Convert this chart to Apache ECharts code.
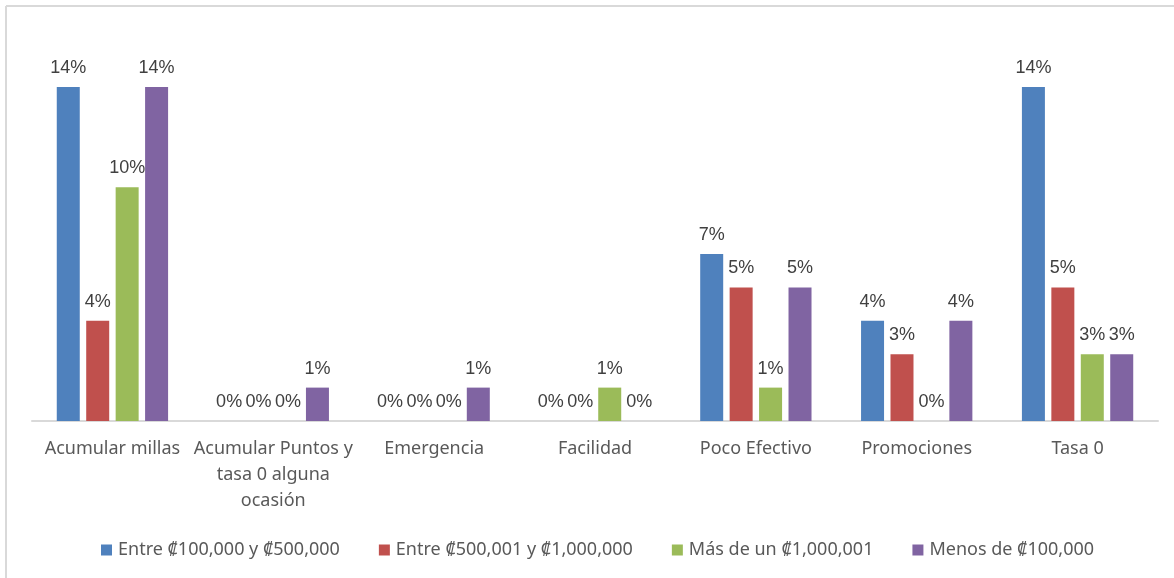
<!DOCTYPE html>
<html>
<head>
<meta charset="utf-8">
<script src="https://cdn.jsdelivr.net/npm/echarts@6/dist/echarts.min.js"></script>
<style>
  html, body { margin: 0; padding: 0; background: #ffffff; }
  #chart { width: 1174px; height: 578px; }
</style>
</head>
<body>
<div id="chart"></div>
<script>
// Reasons for using the card, by income bracket (share of respondents, %)
const categories = [
  'Acumular millas',
  'Acumular Puntos y tasa 0 alguna ocasión',
  'Emergencia',
  'Facilidad',
  'Poco Efectivo',
  'Promociones',
  'Tasa 0'
];

const seriesNames = [
  'Entre ₡100,000 y ₡500,000',
  'Entre ₡500,001 y ₡1,000,000',
  'Más de un ₡1,000,001',
  'Menos de ₡100,000'
];

const entre100y500 = [13.70, 0, 0, 0, 6.85, 4.11, 13.70];
const entre500y1m  = [4.11, 0, 0, 0, 5.48, 2.74, 5.48];
const masDe1m      = [9.59, 0, 0, 1.37, 1.37, 0, 2.74];
const menosDe100   = [13.70, 1.37, 1.37, 0, 5.48, 4.11, 2.74];

const colors = ['#4F81BD', '#C0504D', '#9BBB59', '#8064A2'];
const seriesValues = [entre100y500, entre500y1m, masDe1m, menosDe100];

// wrap long category names on word boundaries
function wrapWords(text, maxChars) {
  const words = text.split(' ');
  const lines = [];
  let line = '';
  words.forEach(w => {
    const next = line ? line + ' ' + w : w;
    if (next.length > maxChars && line) {
      lines.push(line);
      line = w;
    } else {
      line = next;
    }
  });
  if (line) lines.push(line);
  return lines.join('\n');
}

const uiFont = '"Noto Sans", "DejaVu Sans", sans-serif';

const chart = echarts.init(document.getElementById('chart'), null, { renderer: 'canvas' });

chart.setOption({
  animation: false,
  backgroundColor: '#ffffff',
  grid: { left: 32, right: 16, top: 31, bottom: 157, containLabel: false },
  legend: {
    data: seriesNames,
    left: 96,
    top: 536,
    icon: 'rect',
    itemWidth: 11,
    itemHeight: 11,
    itemGap: 39,
    textStyle: { fontFamily: uiFont, fontSize: 18, color: '#595959', padding: [0, 0, 0, 1] }
  },
  xAxis: {
    type: 'category',
    data: categories,
    axisLine: { lineStyle: { color: '#D9D9D9', width: 2 } },
    axisTick: { show: false },
    axisLabel: {
      margin: 15,
      fontFamily: uiFont,
      fontSize: 18,
      lineHeight: 26,
      color: '#595959',
      interval: 0,
      formatter: v => wrapWords(v, 17)
    }
  },
  yAxis: {
    type: 'value',
    min: 0,
    max: 16,
    show: false,
    splitLine: { show: false }
  },
  series: seriesValues.map((vals, i) => ({
    name: seriesNames[i],
    type: 'bar',
    data: vals,
    barWidth: 23,
    barGap: '28%',
    itemStyle: { color: colors[i] },
    label: {
      show: true,
      position: 'top',
      distance: 10,
      fontFamily: '"Liberation Sans", Arial, sans-serif',
      fontSize: 18,
      color: '#404040',
      formatter: p => Math.round(p.value) + '%'
    }
  })),
  graphic: [
    { type: 'line', shape: { x1: 6, y1: 6, x2: 1174, y2: 6 }, style: { stroke: '#D9D9D9', lineWidth: 2 } },
    { type: 'line', shape: { x1: 6, y1: 6, x2: 6, y2: 578 }, style: { stroke: '#D9D9D9', lineWidth: 2 } }
  ]
});
</script>
</body>
</html>
